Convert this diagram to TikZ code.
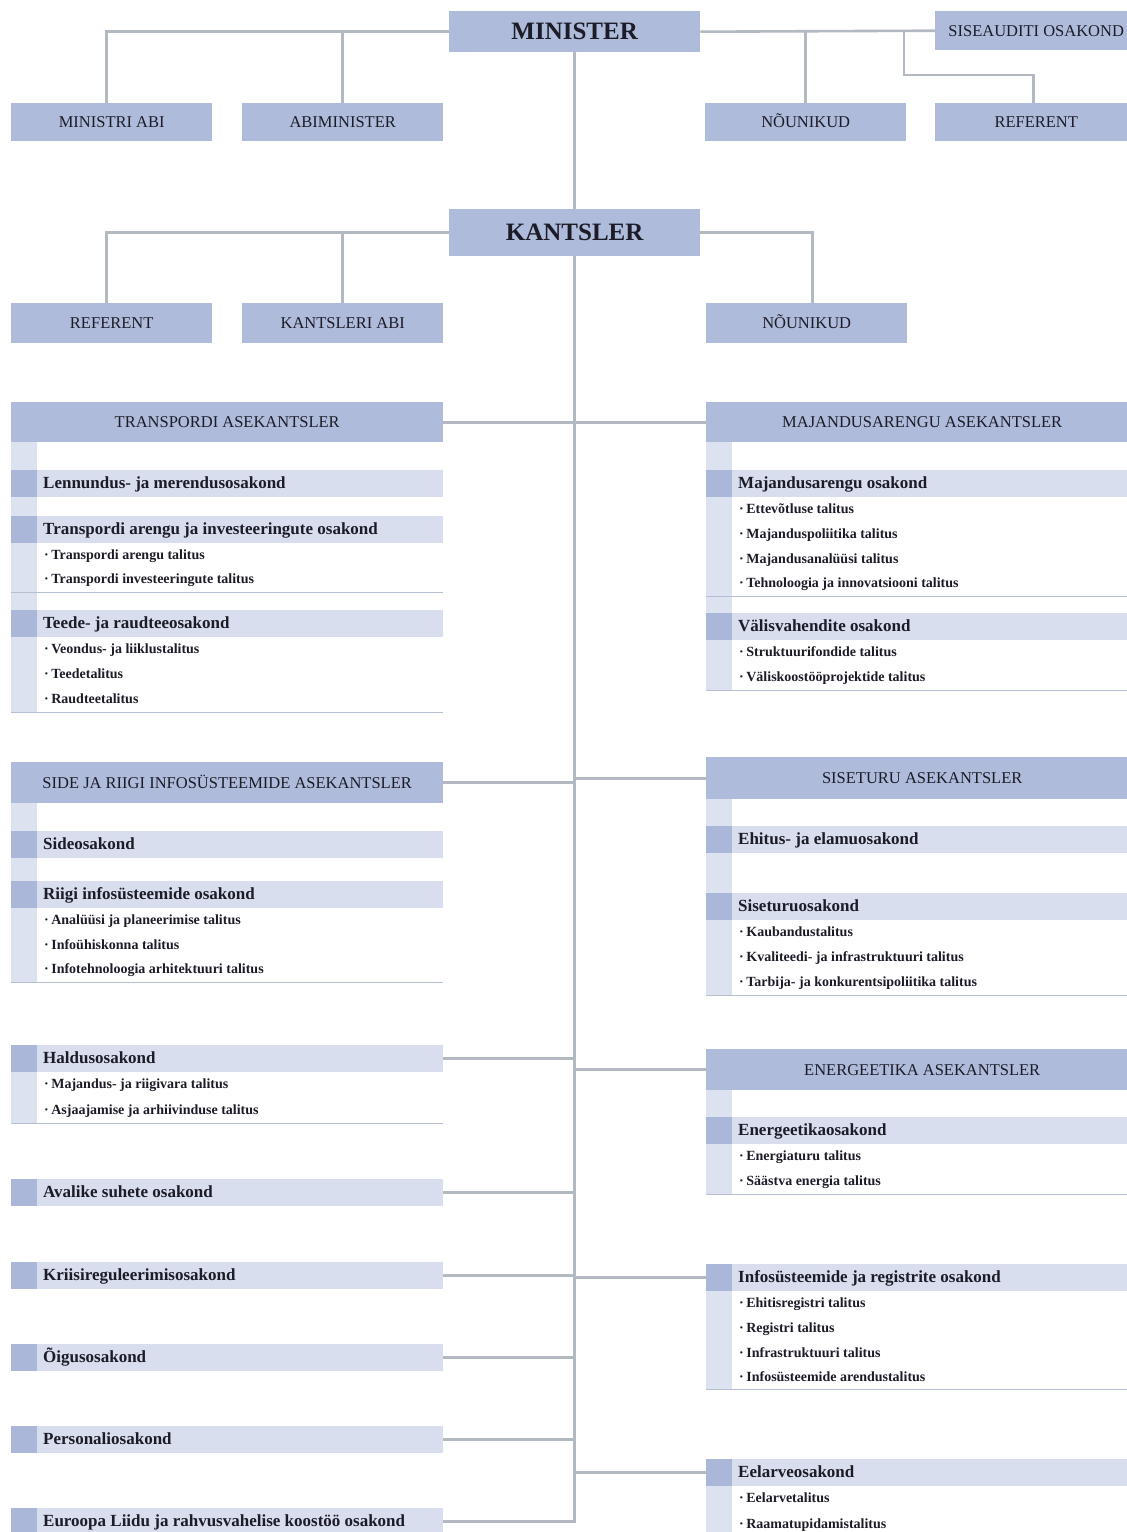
\documentclass[tikz,border=0pt]{standalone}
\usepackage{fontspec}
\setmainfont{Liberation Serif}
\definecolor{boxblue}{HTML}{AEBBDA}
\definecolor{rowblue}{HTML}{D8DEED}
\definecolor{stripedark}{HTML}{AAB7D8}
\definecolor{stripelight}{HTML}{DCE2F0}
\definecolor{rulec}{HTML}{B6BFD2}
\definecolor{wirec}{HTML}{B3B9C1}
\definecolor{ink}{HTML}{1C1C28}

% one department row: name, x, top y, text
\newcommand{\deptrow}[4]{%
  \node[deptbox] (#1) at (#2,#3) {};
  \node[depttext] (#1-t) at ([xshift=32pt]#1.west) {#4};}
% one unit row under a department, set with a leading dot: name, x, top y, height, text
\newcommand{\subrow}[5]{%
  \node[subbox, minimum height=#4] (#1) at (#2,#3) {};
  \draw[rulec, line width=1.3pt] (#1.south west) -- (#1.south east);
  \node[subtext] (#1-t) at ([xshift=33pt]#1.west) {·\hspace{2.5pt}#5};}
% pale left band of a block: x, top y, bottom y
\newcommand{\band}[3]{\fill[stripelight] (#1,#2) rectangle ({#1+26},#3);}

\begin{document}
\begin{tikzpicture}[x=1pt,y=-1pt,
  topbox/.style={fill=boxblue, inner sep=0, anchor=north west, text=ink,
    minimum width=201, minimum height=40, text height=11, text depth=0,
    font=\fontsize{16.5}{18}\selectfont},
  chief/.style={topbox, minimum width=251, text height=16.5,
    font=\fontsize{25}{28}\selectfont\bfseries},
  hdr/.style={topbox, minimum width=432, minimum height=40},
  deptbox/.style={fill=rowblue, inner sep=0, anchor=north west,
    minimum width=432, minimum height=27,
    path picture={\fill[stripedark] (path picture bounding box.north west)
      rectangle ([xshift=26pt]path picture bounding box.south west);}},
  depttext/.style={anchor=west, inner sep=0, text=ink, text height=12, text depth=3,
    font=\fontsize{17}{19}\selectfont\bfseries},
  subbox/.style={fill=white, inner sep=0, anchor=north west, minimum width=432,
    path picture={\fill[stripelight] (path picture bounding box.north west)
      rectangle ([xshift=26pt]path picture bounding box.south west);}},
  subtext/.style={anchor=west, inner sep=0, text=ink, text height=10, text depth=2.5,
    font=\fontsize{14}{16}\selectfont\bfseries},
  wire/.style={draw=wirec, line width=2.6pt}]
\useasboundingbox (0,0) rectangle (1127,1532);
\clip (0,0) rectangle (1127,1532);

% ---------- minister level ----------
\node[chief, minimum height=41] (min) at (449,11) {MINISTER};
\node[topbox, minimum width=202, minimum height=39] (sis) at (935,11) {SISEAUDITI OSAKOND};
\node[topbox, minimum height=38] (mabi) at (11,103) {MINISTRI ABI};
\node[topbox, minimum height=38] (abim) at (242,103) {ABIMINISTER};
\node[topbox, minimum height=38] (nou) at (705,103) {NÕUNIKUD};
\node[topbox, minimum width=202, minimum height=38] (ref) at (935,103) {REFERENT};

% ---------- chancellor level ----------
\node[chief, minimum height=47] (kan) at (449,209) {KANTSLER};
\node[topbox] (kref) at (11,303) {REFERENT};
\node[topbox] (kabi) at (242,303) {KANTSLERI ABI};
\node[topbox] (knou) at (706,303) {NÕUNIKUD};

% ---------- transport ----------
\node[hdr] (tra) at (11,402) {TRANSPORDI ASEKANTSLER};
\band{11}{442}{712}
\deptrow{len}{11}{470}{Lennundus- ja merendusosakond}
\deptrow{tai}{11}{516}{Transpordi arengu ja investeeringute osakond}
\subrow{tai1}{11}{543}{25}{Transpordi arengu talitus}
\subrow{tai2}{11}{568}{24}{Transpordi investeeringute talitus}
\deptrow{tee}{11}{610}{Teede- ja raudteeosakond}
\subrow{tee1}{11}{637}{25}{Veondus- ja liiklustalitus}
\subrow{tee2}{11}{662}{25}{Teedetalitus}
\subrow{tee3}{11}{687}{25}{Raudteetalitus}

% ---------- economic development ----------
\node[hdr] (maj) at (706,402) {MAJANDUSARENGU ASEKANTSLER};
\band{706}{442}{690}
\deptrow{mao}{706}{470}{Majandusarengu osakond}
\subrow{mao1}{706}{497}{26}{Ettevõtluse talitus}
\subrow{mao2}{706}{523}{24}{Majanduspoliitika talitus}
\subrow{mao3}{706}{547}{25}{Majandusanalüüsi talitus}
\subrow{mao4}{706}{572}{24}{Tehnoloogia ja innovatsiooni talitus}
\deptrow{val}{706}{613}{Välisvahendite osakond}
\subrow{val1}{706}{640}{26}{Struktuurifondide talitus}
\subrow{val2}{706}{666}{24}{Väliskoostööprojektide talitus}

% ---------- communications and state information systems ----------
\node[hdr, minimum height=41] (side) at (11,762) {SIDE JA RIIGI INFOSÜSTEEMIDE ASEKANTSLER};
\band{11}{803}{982}
\deptrow{sid}{11}{831}{Sideosakond}
\deptrow{rii}{11}{881}{Riigi infosüsteemide osakond}
\subrow{rii1}{11}{908}{25}{Analüüsi ja planeerimise talitus}
\subrow{rii2}{11}{933}{25}{Infoühiskonna talitus}
\subrow{rii3}{11}{958}{24}{Infotehnoloogia arhitektuuri talitus}

% ---------- internal market ----------
\node[hdr, minimum height=42] (sit) at (706,757) {SISETURU ASEKANTSLER};
\band{706}{799}{995}
\deptrow{ehi}{706}{826}{Ehitus- ja elamuosakond}
\deptrow{sto}{706}{893}{Siseturuosakond}
\subrow{sto1}{706}{920}{26}{Kaubandustalitus}
\subrow{sto2}{706}{946}{24}{Kvaliteedi- ja infrastruktuuri talitus}
\subrow{sto3}{706}{970}{25}{Tarbija- ja konkurentsipoliitika talitus}

% ---------- energy ----------
\node[hdr, minimum height=41] (ene) at (706,1049) {ENERGEETIKA ASEKANTSLER};
\band{706}{1090}{1194}
\deptrow{eno}{706}{1117}{Energeetikaosakond}
\subrow{eno1}{706}{1144}{26}{Energiaturu talitus}
\subrow{eno2}{706}{1170}{24}{Säästva energia talitus}

% ---------- departments under the chancellor, left ----------
\deptrow{hal}{11}{1045}{Haldusosakond}
\subrow{hal1}{11}{1072}{26}{Majandus- ja riigivara talitus}
\subrow{hal2}{11}{1098}{25}{Asjaajamise ja arhiivinduse talitus}
\deptrow{ava}{11}{1179}{Avalike suhete osakond}
\deptrow{kri}{11}{1262}{Kriisireguleerimisosakond}
\deptrow{oig}{11}{1344}{Õigusosakond}
\deptrow{per}{11}{1426}{Personaliosakond}
\deptrow{eu}{11}{1508}{Euroopa Liidu ja rahvusvahelise koostöö osakond}

% ---------- departments under the chancellor, right ----------
\deptrow{inf}{706}{1264}{Infosüsteemide ja registrite osakond}
\subrow{inf1}{706}{1291}{26}{Ehitisregistri talitus}
\subrow{inf2}{706}{1317}{24}{Registri talitus}
\subrow{inf3}{706}{1341}{25}{Infrastruktuuri talitus}
\subrow{inf4}{706}{1366}{23}{Infosüsteemide arendustalitus}
\deptrow{eel}{706}{1459}{Eelarveosakond}
\subrow{eel1}{706}{1486}{26}{Eelarvetalitus}
\subrow{eel2}{706}{1512}{25}{Raamatupidamistalitus}

% ---------- connectors ----------
\coordinate (refbend) at (904,75);
\draw[wire] (min.west) -| ([xshift=-5pt]mabi.north);
\draw[wire] (min.west -| abim.north) -- (abim.north);
\draw[wire] (min.east) -- (sis.west);
\draw[wire] (min.east -| nou.north) -- (nou.north);
\draw[wire] (refbend |- min.east) -- (refbend) -| ([xshift=-3pt]ref.north);
\draw[wire] (min.south) -- (kan.north);

\draw[wire] (kan.west) -| ([xshift=-5pt]kref.north);
\draw[wire] (kan.west -| kabi.north) -- (kabi.north);
\draw[wire] (kan.east) -| ([xshift=6pt]knou.north);

\draw[wire] (kan.south) -- (kan.south |- eu.east) -- (eu.east);
\foreach \n in {tra,side,hal,ava,kri,oig,per}
  \draw[wire] (\n.east) -- (\n.east -| kan.south);
\foreach \n in {maj,sit,ene,inf,eel}
  \draw[wire] (\n.west) -- (\n.west -| kan.south);
\end{tikzpicture}
\end{document}
